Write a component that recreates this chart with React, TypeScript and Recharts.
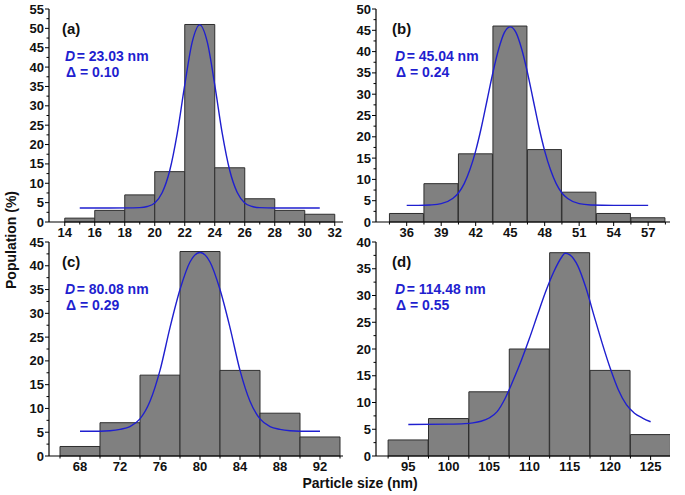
import React from "react";
import { Bar, ComposedChart, Line, XAxis, YAxis } from "recharts";

// (a)
const sizesA = [15, 17, 19, 21, 23, 25, 27, 29, 31];
const countsA = [1, 3, 7, 13, 51, 14, 6, 3, 2];
const fitXA = [15, 17, 18.5, 19, 19.5, 20, 20.5, 21, 21.5, 22, 22.5, 23, 23.5, 24, 24.5, 25, 25.5, 26, 26.5, 27, 28, 29, 31];
const fitYA = [3.6, 3.6, 3.65, 3.7, 4.0, 4.9, 7.6, 13.3, 22.9, 35.4, 46.5, 50.9, 46.5, 35.4, 22.9, 13.3, 7.6, 4.9, 4.0, 3.7, 3.6, 3.6, 3.6];
const xTicksA = [14, 16, 18, 20, 22, 24, 26, 28, 30, 32];
const xMinorA = [15, 17, 19, 21, 23, 25, 27, 29, 31];
const yTicksA = [0, 5, 10, 15, 20, 25, 30, 35, 40, 45, 50, 55];

// (b)
const sizesB = [36, 39, 42, 45, 48, 51, 54, 57];
const countsB = [2, 9, 16, 46, 17, 7, 2, 1];
const fitXB = [36, 37, 38, 39, 40, 40.5, 41, 41.5, 42, 42.5, 43, 43.5, 44, 44.5, 45, 45.5, 46, 46.5, 47, 47.5, 48, 48.5, 49, 49.5, 50, 51, 52, 54, 57];
const fitYB = [3.9, 3.9, 4.0, 4.3, 5.5, 6.8, 9.0, 12.3, 16.7, 22.3, 28.7, 35.1, 40.6, 44.5, 45.8, 44.5, 40.6, 35.1, 28.7, 22.3, 16.7, 12.3, 9.0, 6.8, 5.5, 4.3, 4.0, 3.9, 3.9];
const xTicksB = [36, 39, 42, 45, 48, 51, 54, 57];
const xMinorB = [34.5, 37.5, 40.5, 43.5, 46.5, 49.5, 52.5, 55.5, 58.5];
const yTicksB = [0, 5, 10, 15, 20, 25, 30, 35, 40, 45, 50];

// (c)
const sizesC = [68, 72, 76, 80, 84, 88, 92];
const countsC = [2, 7, 17, 43, 18, 9, 4];
const fitXC = [68, 70, 71, 72, 73, 74, 75, 76, 77, 78, 79, 80, 81, 82, 83, 84, 85, 86, 87, 88, 89, 90, 92];
const fitYC = [5.2, 5.2, 5.3, 5.6, 6.2, 7.8, 11.5, 18, 27, 35, 40.8, 42.8, 40.8, 35, 27, 18, 11.5, 7.8, 6.2, 5.6, 5.3, 5.2, 5.2];
const xTicksC = [68, 72, 76, 80, 84, 88, 92];
const xMinorC = [66, 70, 74, 78, 82, 86, 90, 94];
const yTicksC = [0, 5, 10, 15, 20, 25, 30, 35, 40, 45];

// (d)
const sizesD = [95, 100, 105, 110, 115, 120, 125];
const countsD = [3, 7, 12, 20, 38, 16, 4];
const fitXD = [95, 100, 102, 103, 104, 105, 106, 107, 108, 109, 110, 111, 112, 113, 114, 114.4, 115, 116, 117, 118, 119, 120, 121, 122, 123, 124, 125];
const fitYD = [5.9, 5.95, 6.05, 6.2, 6.5, 7.1, 8.3, 10.8, 14.2, 17.9, 22.0, 26.4, 30.7, 34.4, 37.2, 37.9, 37.6, 35.5, 31.4, 26.2, 21.1, 16.4, 12.4, 9.6, 8.0, 7.1, 6.4];
const xTicksD = [95, 100, 105, 110, 115, 120, 125];
const xMinorD = [92.5, 97.5, 102.5, 107.5, 112.5, 117.5, 122.5];
const yTicksD = [0, 5, 10, 15, 20, 25, 30, 35, 40];

const FONT = "'Liberation Sans', Arial, Helvetica, sans-serif";
const BLUE = "#1f1fcf";

const minorsOf = (ticks: number[]) => {
  const out: number[] = [];
  for (let i = 0; i < ticks.length - 1; i++) out.push((ticks[i] + ticks[i + 1]) / 2);
  return out;
};

const XTick = (props: any) => {
  const { x, y, payload, majors } = props;
  const major = majors.includes(payload.value);
  return (
    <g>
      <line x1={x} y1={y} x2={x} y2={y + (major ? 4 : 2.5)} stroke="#000" strokeWidth={1} />
      {major && (
        <text x={x} y={y + 14.5} textAnchor="middle" fontFamily={FONT} fontWeight="bold" fontSize={13} fill="#111">
          {payload.value}
        </text>
      )}
    </g>
  );
};

const YTick = (props: any) => {
  const { x, y, payload, majors } = props;
  const major = majors.includes(payload.value);
  return (
    <g>
      <line x1={x} y1={y} x2={x - (major ? 4 : 2.5)} y2={y} stroke="#000" strokeWidth={1} />
      {major && (
        <text x={x - 5} y={y + 4.5} textAnchor="end" fontFamily={FONT} fontWeight="bold" fontSize={13} fill="#111">
          {payload.value}
        </text>
      )}
    </g>
  );
};

interface PanelProps {
  left: number;
  top: number;
  height: number;
  sizes: number[];
  counts: number[];
  fitX: number[];
  fitY: number[];
  xTicks: number[];
  xMinor: number[];
  yTicks: number[];
  xDomain: [number, number];
}

const Panel: React.FC<PanelProps> = (p) => {
  const barData = p.sizes.map((x, i) => ({ x, v: p.counts[i] }));
  const fitData = p.fitX.map((x, i) => ({ x, y: p.fitY[i] }));
  const yAll = [...p.yTicks, ...minorsOf(p.yTicks)].sort((a, b) => a - b);
  const xAll = [...p.xTicks, ...p.xMinor].sort((a, b) => a - b);
  const yDomain: [number, number] = [0, p.yTicks[p.yTicks.length - 1]];
  return (
    <div style={{ position: "absolute", left: p.left, top: p.top }}>
      <ComposedChart
        width={345}
        height={p.height}
        data={barData}
        margin={{ top: 9, right: 2, bottom: 0, left: 0 }}
        barCategoryGap={0}
        barGap={0}
      >
        <XAxis
          dataKey="x"
          type="number"
          domain={p.xDomain}
          allowDataOverflow
          ticks={xAll}
          interval={0}
          height={23}
          tickSize={0}
          tickMargin={0}
          tickLine={false}
          axisLine={{ stroke: "#000", strokeWidth: 1.2 }}
          tick={(t: any) => <XTick {...t} majors={p.xTicks} />}
        />
        <XAxis
          xAxisId="top"
          orientation="top"
          dataKey="x"
          type="number"
          domain={p.xDomain}
          allowDataOverflow
          height={0}
          tick={false}
          tickLine={false}
          axisLine={{ stroke: "#222", strokeWidth: 1.3 }}
        />
        <YAxis
          type="number"
          domain={yDomain}
          ticks={yAll}
          interval={0}
          width={49}
          tickSize={0}
          tickMargin={0}
          tickLine={false}
          axisLine={{ stroke: "#000", strokeWidth: 1.2 }}
          tick={(t: any) => <YTick {...t} majors={p.yTicks} />}
        />
        <YAxis
          yAxisId="r"
          orientation="right"
          type="number"
          domain={yDomain}
          width={0}
          tick={false}
          tickLine={false}
          axisLine={{ stroke: "#222", strokeWidth: 1.3 }}
        />
        <Bar dataKey="v" fill="#808080" stroke="#2e2e2e" strokeWidth={1} isAnimationActive={false} />
        <Line
          xAxisId="top"
          data={fitData}
          dataKey="y"
          type="monotone"
          stroke={BLUE}
          strokeWidth={1.4}
          dot={false}
          activeDot={false}
          isAnimationActive={false}
        />
      </ComposedChart>
    </div>
  );
};

const Note = ({ x, y, tag, d, delta }: { x: number; y: number; tag: string; d: string; delta: string }) => (
  <g fontFamily={FONT} fontWeight="bold">
    <text x={x - 3} y={y} fontSize={15} fill="#111">
      {tag}
    </text>
    <text x={x} y={y + 27} fontSize={14} fill={BLUE}>
      <tspan fontStyle="italic">D</tspan>
      <tspan dx={1.5}>{"= " + d + " nm"}</tspan>
    </text>
    <text x={x + 1} y={y + 43} fontSize={14} fill={BLUE}>
      {"Δ = " + delta}
    </text>
  </g>
);

export default function App() {
  return (
    <div style={{ position: "absolute", left: 0, top: 0, width: 685, height: 495, background: "#fff", overflow: "hidden" }}>
      <Panel left={0} top={0} height={245} sizes={sizesA} counts={countsA} fitX={fitXA} fitY={fitYA} xTicks={xTicksA} xMinor={xMinorA} yTicks={yTicksA} xDomain={[12.95, 32.55]} />
      <Panel left={327} top={0} height={245} sizes={sizesB} counts={countsB} fitX={fitXB} fitY={fitYB} xTicks={xTicksB} xMinor={xMinorB} yTicks={yTicksB} xDomain={[33.33, 58.9]} />
      <Panel left={0} top={233} height={246} sizes={sizesC} counts={countsC} fitX={fitXC} fitY={fitYC} xTicks={xTicksC} xMinor={xMinorC} yTicks={yTicksC} xDomain={[64.9, 94.3]} />
      <Panel left={327} top={233} height={246} sizes={sizesD} counts={countsD} fitX={fitXD} fitY={fitYD} xTicks={xTicksD} xMinor={xMinorD} yTicks={yTicksD} xDomain={[91.0, 127.4]} />
      <svg width={685} height={495} style={{ position: "absolute", left: 0, top: 0, pointerEvents: "none" }}>
        <Note x={65} y={34} tag="(a)" d="23.03" delta="0.10" />
        <Note x={395} y={34} tag="(b)" d="45.04" delta="0.24" />
        <Note x={65} y={267} tag="(c)" d="80.08" delta="0.29" />
        <Note x={395} y={267} tag="(d)" d="114.48" delta="0.55" />
        <text
          transform="translate(16 240) rotate(-90)"
          textAnchor="middle"
          fontFamily={FONT}
          fontWeight="bold"
          fontSize={14}
          fill="#111"
        >
          Population (%)
        </text>
        <text x={360} y={488} textAnchor="middle" fontFamily={FONT} fontWeight="bold" fontSize={14} fill="#111">
          Particle size (nm)
        </text>
      </svg>
    </div>
  );
}
